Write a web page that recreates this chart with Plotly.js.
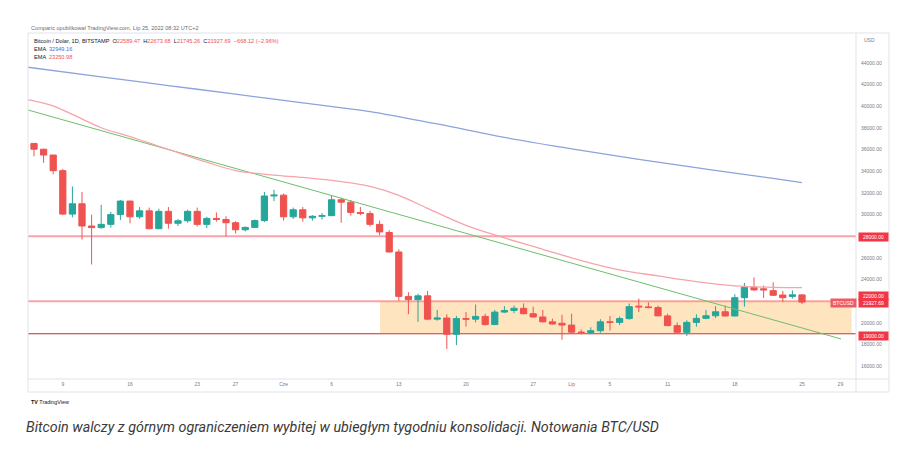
<!DOCTYPE html>
<html><head><meta charset="utf-8">
<script src="https://cdn.plot.ly/plotly-3.0.1.min.js"></script>
<style>html,body{margin:0;padding:0;background:#fff;}#chart{width:906px;height:463px;}</style>
</head><body><div id="chart"></div>
<script>
// ---- Data (BTC/USD daily, Bitstamp) ----
const dates = ["2022-05-06","2022-05-07","2022-05-08","2022-05-09","2022-05-10","2022-05-11","2022-05-12","2022-05-13","2022-05-14","2022-05-15",
"2022-05-16","2022-05-17","2022-05-18","2022-05-19","2022-05-20","2022-05-21","2022-05-22","2022-05-23","2022-05-24","2022-05-25",
"2022-05-26","2022-05-27","2022-05-28","2022-05-29","2022-05-30","2022-05-31","2022-06-01","2022-06-02","2022-06-03","2022-06-04",
"2022-06-05","2022-06-06","2022-06-07","2022-06-08","2022-06-09","2022-06-10","2022-06-11","2022-06-12","2022-06-13","2022-06-14",
"2022-06-15","2022-06-16","2022-06-17","2022-06-18","2022-06-19","2022-06-20","2022-06-21","2022-06-22","2022-06-23","2022-06-24",
"2022-06-25","2022-06-26","2022-06-27","2022-06-28","2022-06-29","2022-06-30","2022-07-01","2022-07-02","2022-07-03","2022-07-04",
"2022-07-05","2022-07-06","2022-07-07","2022-07-08","2022-07-09","2022-07-10","2022-07-11","2022-07-12","2022-07-13","2022-07-14",
"2022-07-15","2022-07-16","2022-07-17","2022-07-18","2022-07-19","2022-07-20","2022-07-21","2022-07-22","2022-07-23","2022-07-24","2022-07-25"];
const open  = [36573,36042,35502,34060,30050,31000,28950,28800,29100,30000,
31250,29800,30350,28700,30300,29200,29430,30300,29100,29650,
29550,29250,28600,28820,29450,31720,31800,29800,30450,29700,
29850,29900,31370,31150,30200,30100,29100,28350,26550,22450,
22150,22500,20350,20450,18950,20400,20350,20600,19850,21000,
21150,21350,20850,20550,20100,19970,19800,19150,19120,19280,
20100,20050,20400,21550,21480,21420,20650,19750,19130,20050,
20420,20660,21030,20640,22330,23290,23150,22980,22580,22450,22589.47];
const high  = [36624,36074,35502,34222,32600,32100,30000,30900,30250,31350,
31300,30700,30650,30550,30700,29600,30450,30650,29800,30200,
29850,29400,28900,29550,32100,32300,31950,30650,30700,29950,
30150,31750,31550,31350,30700,30350,29450,28550,26800,22850,
22700,22950,21200,20800,20650,21000,21700,20850,21200,21550,
21600,21800,21500,21200,20400,20750,20850,19400,19600,20350,
20650,20600,21800,22250,21900,21600,20850,20050,20250,20800,
21200,21550,21600,22650,23700,24200,23450,23750,22950,23000,22673.68];
const low   = [35382,34785,33714,29950,29750,27700,25400,28700,28800,29500,
29200,29600,28650,28650,28700,28950,29250,28900,28750,29350,
28000,28250,28450,28800,29300,31250,29450,29600,29350,29450,
29550,29880,29250,29900,29950,28900,28100,26500,22050,20800,
20100,20250,20200,17600,17950,19650,20050,19750,19800,20900,
20900,20800,20500,20050,19850,18450,19050,18950,18950,19100,
19300,19800,20300,21000,21350,20650,19700,19050,18800,19650,
20350,20450,20600,20600,21500,22950,22300,22500,21950,22250,21745.26];
const close = [36041,35502,34059,30050,31000,28950,28800,29100,30000,31250,
29800,30350,28700,30300,29200,29430,30300,29100,29650,29550,
29250,28600,28820,29450,31720,31800,29800,30450,29700,29850,
29900,31370,31150,30200,30100,29100,28400,26550,22450,22150,
22500,20350,20450,18950,20400,20350,20600,19850,21000,21150,
21350,20850,20550,20100,19900,19800,19150,19120,19280,20100,
20050,20400,21500,21480,21420,20650,19750,19130,20050,20420,
20660,21030,20640,22330,23290,23050,23050,22550,22330,22590,21927.69];

// EMA (long) - blue line
const emaLongDates  = ["2022-05-05","2022-05-13","2022-05-20","2022-05-27","2022-06-03","2022-06-10","2022-06-17","2022-06-24","2022-07-01","2022-07-08","2022-07-15","2022-07-22","2022-07-25"];
const emaLongValues = [43650,42720,41920,41120,40310,39520,38370,37130,36080,35100,34210,33340,32949.16];
// EMA (short) - red line
const emaShortDates  = ["2022-05-05","2022-05-06","2022-05-08","2022-05-10","2022-05-13","2022-05-16","2022-05-20","2022-05-24","2022-05-27","2022-05-31","2022-06-03","2022-06-07","2022-06-10","2022-06-13","2022-06-16","2022-06-20","2022-06-24","2022-06-28","2022-07-02","2022-07-06","2022-07-10","2022-07-14","2022-07-18","2022-07-22","2022-07-25"];
const emaShortValues = [40650,40500,40050,39250,38020,37200,36020,34840,34070,33650,33430,33040,32600,31770,30580,29010,27850,26800,25760,24900,24340,23810,23420,23290,23250.98];

// Drawn trend line (green)
const trendDates  = ["2022-05-05 09:00","2022-07-29 01:30"];
const trendValues = [39660,18520];

// Horizontal levels and consolidation zone
const levelValues = [28000, 22000, 19000];
const levelLabels = ["28000.00","22000.00","19000.00"];
const zoneStart = "2022-06-11 01:00", zoneEnd = "2022-07-30 04:00";
const zoneLow = 19000, zoneHigh = 22000;

// Axes (28000 and 22000 labels are covered by the level label boxes)
const yTickVals = [16000,18000,20000,24000,26000,30000,32000,34000,36000,38000,40000,42000,44000];
const yTickText = yTickVals.map(v => v.toFixed(2));
const xTickVals = ["2022-05-09","2022-05-16","2022-05-23","2022-05-27","2022-06-01","2022-06-06","2022-06-13","2022-06-20","2022-06-27","2022-07-01","2022-07-05","2022-07-11","2022-07-18","2022-07-25","2022-07-29"];
const xTickText = ["9","16","23","27","Cze","6","13","20","27","Lip","5","11","18","25","29"];

const lastPrice = "21927.69";
const headerText = "Comparic opublikował TradingView.com, Lip 25, 2022 08:32 UTC+2";
const captionText = "Bitcoin walczy z górnym ograniczeniem wybitej w ubiegłym tygodniu konsolidacji. Notowania BTC/USD";

// ---- Layout helpers (pixel -> paper) ----
const L = 28, R = 856, T = 33, B = 379;
const px = x => (x - L) / (R - L);
const py = y => (B - y) / (B - T);

const RED = "#ef5350", GREEN = "#26a69a", GREY = "#787b86", FRAME = "#e0e3eb", LBL = "#f23645";
const FONT = "Liberation Sans, Arial, sans-serif";

const traces = [
  {type:"scatter", mode:"lines", x:trendDates, y:trendValues, line:{color:"#6cbf6c", width:1}, hoverinfo:"skip"},
  {type:"scatter", mode:"lines", x:emaLongDates, y:emaLongValues, line:{color:"#8ba4dc", width:1.3, shape:"spline"}, hoverinfo:"skip"},
  {type:"scatter", mode:"lines", x:emaShortDates, y:emaShortValues, line:{color:"#f6a4aa", width:1.3, shape:"spline"}, hoverinfo:"skip"},
  {type:"candlestick", x:dates, open:open, high:high, low:low, close:close,
   increasing:{line:{color:GREEN, width:1}, fillcolor:GREEN},
   decreasing:{line:{color:RED, width:1}, fillcolor:RED},
   whiskerwidth:0, hoverinfo:"skip"}
];

const shapes = [
  {type:"rect", xref:"x", yref:"y", x0:zoneStart, x1:zoneEnd, y0:zoneLow, y1:zoneHigh, fillcolor:"rgba(255,152,0,0.25)", line:{width:0}, layer:"below"},
  {type:"line", xref:"paper", yref:"y", x0:0, x1:1, y0:levelValues[0], y1:levelValues[0], line:{color:"rgba(242,54,69,0.45)", width:2}, layer:"below"},
  {type:"line", xref:"paper", yref:"y", x0:0, x1:1, y0:levelValues[1], y1:levelValues[1], line:{color:"rgba(242,54,69,0.45)", width:2}, layer:"below"},
  {type:"line", xref:"paper", yref:"y", x0:0, x1:1, y0:levelValues[2], y1:levelValues[2], line:{color:"#c62828", width:1}, layer:"below"},
];
// frame
const fx = [px(28), px(856), px(889)], fy = [py(33), py(379), py(392)];
[[fx[0],fy[0],fx[2],fy[0]],[fx[0],fy[1],fx[2],fy[1]],[fx[0],fy[2],fx[2],fy[2]],
 [fx[0],fy[0],fx[0],fy[2]],[fx[1],fy[0],fx[1],fy[2]],[fx[2],fy[0],fx[2],fy[2]]].forEach(s=>{
  shapes.push({type:"line", xref:"paper", yref:"paper", x0:s[0], y0:s[1], x1:s[2], y1:s[3], line:{color:FRAME, width:1}});
});

function txt(x, y, text, size, color, extra){
  return Object.assign({xref:"paper", yref:"paper", x:px(x), y:py(y), text:text, showarrow:false,
    xanchor:"left", yanchor:"middle", font:{family:FONT, size:size, color:color}}, extra||{});
}
function rv(s){ return '<span style="color:'+RED+'">'+s+'</span>'; }

const annotations = [
  txt(29, 27.5, headerText, 5.6, "#6a6d78"),
  txt(32, 41, "Bitcoin / Dolar, 1D, BITSTAMP  O"+rv("22589.47")+"  H"+rv("22673.68")+"  L"+rv("21745.26")+"  C"+rv("21927.69")+"  "+rv("−668.12 (−2.96%)"), 5.6, "#131722"),
  txt(32, 49, 'EMA  <span style="color:#4a6fd0">'+emaLongValues[emaLongValues.length-1].toFixed(2)+'</span>', 5.6, "#131722"),
  txt(32, 57, 'EMA  <span style="color:'+RED+'">'+emaShortValues[emaShortValues.length-1].toFixed(2)+'</span>', 5.6, "#131722"),
  txt(862, 40, "USD", 5, GREY),
  txt(858, 236.7, levelLabels[0], 5, "#ffffff", {bgcolor:LBL, width:28, height:7, align:"center", borderpad:0.5}),
  txt(858, 295.5, levelLabels[1], 5, "#ffffff", {bgcolor:LBL, width:28, height:7, align:"center", borderpad:0.5}),
  txt(858, 303.3, lastPrice, 5, "#ffffff", {bgcolor:LBL, width:28, height:7, align:"center", borderpad:0.5}),
  txt(830, 303.3, "BTCUSD", 5, "#ffffff", {bgcolor:"#f05a64", width:24, height:7, align:"center", borderpad:0.5}),
  txt(858, 335.5, levelLabels[2], 5, "#ffffff", {bgcolor:LBL, width:28, height:7, align:"center", borderpad:0.5}),
  txt(29, 401.5, "<b>TV</b> TradingView", 5.4, "#131722"),
  txt(24, 427, "<i>"+captionText+"</i>", 14.3, "#3a3a3a", {font:{family:"Roboto, sans-serif", size:14.3, color:"#3a3a3a"}})
];

const layout = {
  width:906, height:463,
  margin:{l:L, r:906-R, t:T, b:463-B},
  paper_bgcolor:"#ffffff", plot_bgcolor:"#ffffff",
  showlegend:false, boxgap:0.35, boxgroupgap:0,
  xaxis:{type:"date", range:["2022-05-05 09:00","2022-07-30 15:00"], rangeslider:{visible:false},
    tickvals:xTickVals, ticktext:xTickText, showgrid:false, zeroline:false, ticks:"",
    tickfont:{family:FONT, size:5, color:GREY}, ticklabelstandoff:1, fixedrange:true},
  yaxis:{side:"right", range:[14822,46770], tickvals:yTickVals, ticktext:yTickText,
    showgrid:false, zeroline:false, ticks:"", tickfont:{family:FONT, size:5, color:GREY},
    ticklabelstandoff:4, fixedrange:true},
  shapes:shapes, annotations:annotations
};

Plotly.newPlot("chart", traces, layout, {staticPlot:true, displayModeBar:false});
</script>
</body></html>
